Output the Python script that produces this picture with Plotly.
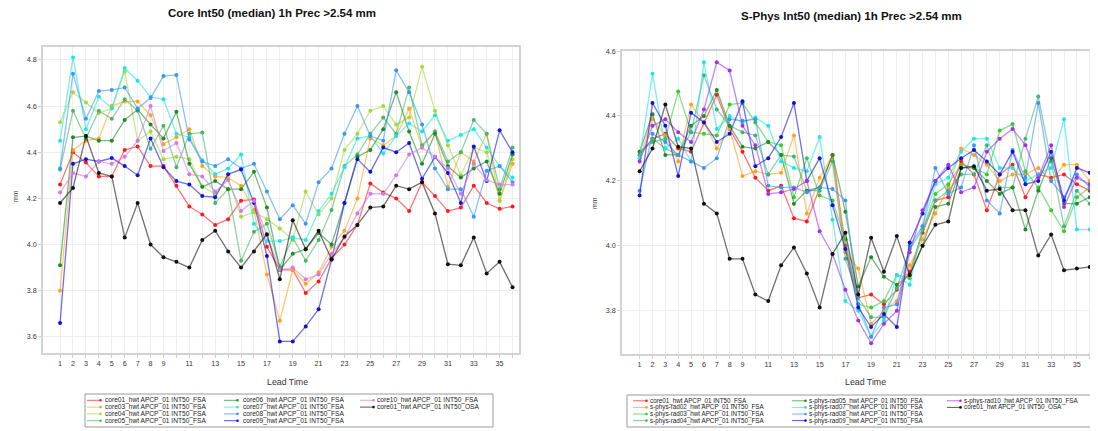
import plotly.graph_objects as go

# page is drawn with the browser's default 8px body margin
OFF = 8
W, H = 1098 - OFF, 431 - OFF

# ---------------- data ----------------
leads = list(range(1, 37))
xtick_labels = ["1", "2", "3", "4", "5", "6", "7", "8", "9", "11", "13", "15", "17",
                "19", "21", "23", "25", "27", "29", "31", "33", "35"]

left_title = "Core Int50 (median) 1h Prec >2.54 mm"
right_title = "S-Phys Int50 (median) 1h Prec >2.54 mm"
x_title = "Lead Time"
y_title = "mm"

left_names = ["core01_hwt APCP_01 INT50_FSA", "core03_hwt APCP_01 INT50_FSA",
              "core04_hwt APCP_01 INT50_FSA", "core05_hwt APCP_01 INT50_FSA",
              "core06_hwt APCP_01 INT50_FSA", "core07_hwt APCP_01 INT50_FSA",
              "core08_hwt APCP_01 INT50_FSA", "core09_hwt APCP_01 INT50_FSA",
              "core10_hwt APCP_01 INT50_FSA", "core01_hwt APCP_01 INT50_OSA"]
left_colors = ["#ff1a1a", "#ffa31a", "#a4d93a", "#45b865", "#1f8a2a",
               "#1ee6e6", "#3a96f0", "#1010d8", "#d07ae8", "#111111"]

core01_l = [4.26, 4.40, 4.355, 4.295, 4.295, 4.41, 4.425, 4.34, 4.34, 4.255, 4.165, 4.13,
            4.085, 4.11, 4.19, 4.195, 3.99, 3.89, 3.89, 3.79, 3.84, 3.94, 4.00, 4.085,
            4.265, 4.225, 4.20, 4.145, 4.27, 4.21, 4.145, 4.16, 4.255, 4.18, 4.155, 4.165]
core03_l = [3.80, 4.41, 4.45, 4.46, 4.60, 4.62, 4.62, 4.56, 4.435, 4.465, 4.50, 4.34,
            4.295, 4.29, 4.255, 4.15, 3.87, 3.67, 3.89, 3.83, 3.88, 3.99, 4.06, 4.20,
            4.46, 4.43, 4.47, 4.59, 4.42, 4.49, 4.25, 4.40, 4.36, 4.48, 4.19, 4.35]
core04_l = [4.53, 4.66, 4.615, 4.57, 4.59, 4.75, 4.45, 4.49, 4.37, 4.38, 4.37, 4.25,
            4.22, 4.285, 4.12, 4.14, 4.11, 4.07, 4.02, 4.23, 4.13, 4.20, 4.41, 4.48,
            4.58, 4.60, 4.52, 4.55, 4.77, 4.58, 4.43, 4.30, 4.42, 4.40, 4.19, 4.37]
core05_l = [4.325, 4.58, 4.46, 4.58, 4.545, 4.63, 4.58, 4.415, 4.515, 4.335, 4.48, 4.485,
            4.18, 4.24, 3.93, 4.055, 4.09, 3.905, 4.03, 3.93, 4.02, 4.15, 4.34, 4.39,
            4.48, 4.55, 4.48, 4.68, 4.43, 4.49, 4.36, 4.40, 4.54, 4.48, 4.24, 4.42]
core06_l = [3.91, 4.465, 4.47, 4.45, 4.45, 4.54, 4.585, 4.52, 4.46, 4.575, 4.35, 4.25,
            4.275, 4.24, 4.24, 4.315, 4.16, 3.89, 3.96, 3.98, 4.05, 4.00, 4.18, 4.38,
            4.41, 4.50, 4.66, 4.49, 4.35, 4.48, 4.34, 4.29, 4.33, 4.36, 4.22, 4.39]
core07_l = [4.45, 4.81, 4.50, 4.64, 4.59, 4.765, 4.71, 4.64, 4.63, 4.48, 4.465, 4.365,
            4.305, 4.33, 4.39, 4.09, 4.015, 4.015, 4.03, 4.02, 4.145, 4.22, 4.335, 4.46,
            4.47, 4.395, 4.47, 4.525, 4.49, 4.56, 4.45, 4.475, 4.50, 4.42, 4.34, 4.29]
core08_l = [4.33, 4.74, 4.545, 4.665, 4.67, 4.68, 4.59, 4.635, 4.73, 4.735, 4.455, 4.36,
            4.34, 4.37, 4.33, 4.35, 4.23, 4.11, 4.17, 4.09, 4.27, 4.33, 4.48, 4.60,
            4.47, 4.45, 4.755, 4.66, 4.52, 4.33, 4.24, 4.24, 4.12, 4.32, 4.34, 4.27]
core09_l = [3.66, 4.35, 4.37, 4.36, 4.375, 4.34, 4.30, 4.46, 4.335, 4.275, 4.26, 4.21,
            4.205, 4.305, 4.325, 4.18, 3.95, 3.58, 3.58, 3.645, 3.72, 3.935, 4.18, 4.37,
            4.315, 4.42, 4.40, 4.44, 4.285, 4.38, 4.31, 4.18, 4.425, 4.275, 4.495, 4.40]
core10_l = [4.225, 4.31, 4.295, 4.36, 4.35, 4.38, 4.45, 4.60, 4.405, 4.44, 4.305, 4.295,
            4.23, 4.28, 4.145, 4.19, 4.04, 3.89, 3.90, 3.85, 3.87, 3.96, 4.03, 4.135,
            4.22, 4.22, 4.30, 4.39, 4.42, 4.38, 4.33, 4.22, 4.35, 4.28, 4.26, 4.26]
osa_l = [4.18, 4.245, 4.47, 4.31, 4.295, 4.03, 4.18, 4.00, 3.945, 3.925, 3.90, 4.02,
         4.06, 3.97, 3.90, 3.97, 4.045, 3.85, 4.105, 3.98, 4.06, 3.935, 4.035, 4.085,
         4.16, 4.165, 4.255, 4.24, 4.27, 4.135, 3.915, 3.91, 4.03, 3.875, 3.925, 3.815]

right_names = ["core01_hwt APCP_01 INT50_FSA", "s-phys-rad02_hwt APCP_01 INT50_FSA",
               "s-phys-rad03_hwt APCP_01 INT50_FSA", "s-phys-rad04_hwt APCP_01 INT50_FSA",
               "s-phys-rad05_hwt APCP_01 INT50_FSA", "s-phys-rad07_hwt APCP_01 INT50_FSA",
               "s-phys-rad08_hwt APCP_01 INT50_FSA", "s-phys-rad09_hwt APCP_01 INT50_FSA",
               "s-phys-rad10_hwt APCP_01 INT50_FSA", "core01_hwt APCP_01 INT50_OSA"]
right_colors = ["#ff1a1a", "#ffa31a", "#33cc33", "#45b07a", "#1f8a2a",
                "#1ee6e6", "#3a96f0", "#1010d8", "#a030f0", "#111111"]

core01_r = [4.28, 4.33, 4.345, 4.30, 4.29, 4.38, 4.465, 4.36, 4.29, 4.21, 4.17, 4.185,
            4.085, 4.075, 4.18, 4.28, 4.00, 3.84, 3.85, 3.82, 3.865, 3.92, 4.04, 4.14,
            4.15, 4.26, 4.22, 4.11, 4.22, 4.25, 4.15, 4.22, 4.21, 4.22, 4.19, 4.17]
rad02_r = [4.27, 4.39, 4.34, 4.26, 4.435, 4.38, 4.30, 4.36, 4.215, 4.23, 4.22, 4.225,
           4.34, 4.10, 4.21, 4.28, 3.98, 3.93, 3.76, 3.80, 3.83, 3.94, 4.02, 4.10,
           4.18, 4.30, 4.28, 4.25, 4.20, 4.22, 4.22, 4.24, 4.20, 4.25, 4.25, 4.20]
rad03_r = [4.29, 4.32, 4.33, 4.475, 4.35, 4.345, 4.34, 4.435, 4.44, 4.38, 4.32, 4.31,
           4.15, 4.27, 4.155, 4.14, 4.02, 3.82, 3.81, 3.83, 3.91, 3.90, 4.05, 4.16,
           4.19, 4.25, 4.24, 4.22, 4.355, 4.375, 4.23, 4.18, 4.11, 4.045, 4.15, 4.18]
rad04_r = [4.28, 4.33, 4.30, 4.28, 4.35, 4.525, 4.42, 4.37, 4.35, 4.34, 4.22, 4.28,
           4.275, 4.17, 4.17, 4.26, 3.96, 3.84, 3.78, 3.78, 3.87, 3.99, 4.05, 4.14,
           4.17, 4.22, 4.22, 4.31, 4.18, 4.18, 4.33, 4.46, 4.26, 4.06, 4.17, 4.13]
rad05_r = [4.29, 4.405, 4.28, 4.28, 4.37, 4.40, 4.48, 4.37, 4.305, 4.30, 4.32, 4.28,
           4.13, 4.17, 4.18, 4.28, 4.105, 3.875, 3.965, 3.905, 3.88, 3.91, 4.00, 4.12,
           4.13, 4.24, 4.24, 4.20, 4.16, 4.18, 4.05, 4.17, 4.27, 4.13, 4.13, 4.15]
rad07_r = [4.27, 4.53, 4.30, 4.33, 4.26, 4.565, 4.36, 4.40, 4.38, 4.395, 4.37, 4.26,
           4.24, 4.23, 4.335, 4.08, 3.83, 3.80, 3.72, 3.77, 3.91, 3.88, 4.06, 4.19,
           4.21, 4.29, 4.33, 4.33, 4.24, 4.24, 4.20, 4.22, 4.24, 4.39, 4.05, 4.05]
rad08_r = [4.17, 4.345, 4.32, 4.28, 4.26, 4.24, 4.27, 4.39, 4.385, 4.39, 4.185, 4.18,
           4.18, 4.165, 4.18, 4.175, 4.14, 3.82, 3.72, 3.81, 3.82, 4.00, 4.06, 4.24,
           4.16, 4.18, 4.31, 4.14, 4.10, 4.295, 4.21, 4.44, 4.20, 4.15, 4.22, 4.18]
rad09_r = [4.155, 4.44, 4.37, 4.215, 4.41, 4.38, 4.32, 4.345, 4.445, 4.245, 4.27, 4.335,
           4.44, 4.20, 4.27, 4.125, 3.99, 3.81, 3.75, 3.79, 3.75, 4.01, 4.10, 4.20,
           4.24, 4.27, 4.295, 4.26, 4.22, 4.29, 4.19, 4.20, 4.29, 4.14, 4.24, 4.225]
rad10_r = [4.26, 4.37, 4.39, 4.35, 4.32, 4.42, 4.565, 4.54, 4.37, 4.31, 4.16, 4.165,
           4.175, 4.20, 4.045, 3.975, 3.865, 3.77, 3.70, 3.76, 3.80, 3.98, 4.11, 4.20,
           4.25, 4.165, 4.18, 4.29, 4.33, 4.36, 4.31, 4.21, 4.31, 4.12, 4.21, 4.19]
osa_r = [4.23, 4.30, 4.435, 4.305, 4.30, 4.13, 4.10, 3.96, 3.96, 3.85, 3.83, 3.94,
         3.995, 3.915, 3.81, 3.975, 4.04, 3.85, 4.025, 3.92, 4.03, 3.91, 4.00, 4.065,
         4.075, 4.24, 4.245, 4.17, 4.175, 4.11, 4.11, 3.97, 4.035, 3.925, 3.93, 3.935]

left_series = [core01_l, core03_l, core04_l, core05_l, core06_l,
               core07_l, core08_l, core09_l, core10_l, osa_l]
right_series = [core01_r, rad02_r, rad03_r, rad04_r, rad05_r,
                rad07_r, rad08_r, rad09_r, rad10_r, osa_r]

# ---------------- helpers (page pixel -> paper fraction) ----------------
def px(x):
    return (x - OFF) / W


def py(y):
    return 1 - (y - OFF) / H


def rgba(hexc, a):
    h = hexc.lstrip("#")
    r, g, b = int(h[0:2], 16), int(h[2:4], 16), int(h[4:6], 16)
    return f"rgba({r},{g},{b},{a})"


FONT = "Liberation Sans, Arial, sans-serif"

fig = go.Figure()

for names, colors, series, xa, ya in [
    (left_names, left_colors, left_series, "x", "y"),
    (right_names, right_colors, right_series, "x2", "y2"),
]:
    for name, col, vals in zip(names, colors, series):
        fig.add_trace(go.Scatter(
            x=leads, y=vals, name=name, mode="lines+markers",
            line=dict(color=rgba(col, 0.6), width=1.3),
            marker=dict(color=col, size=4),
            xaxis=xa, yaxis=ya, showlegend=False,
        ))

# every lead gets a tick and grid line; only some carry a label
xtick_text_all = [str(v) if str(v) in xtick_labels else "" for v in leads]

axis_common = dict(
    showline=True, mirror=True, linecolor="#d2d2d2", linewidth=1.5,
    showgrid=True, gridcolor="#eeeeee", gridwidth=1, zeroline=False,
    ticks="outside", ticklen=3, tickcolor="#cfcfcf",
    tickfont=dict(family=FONT, size=7.2, color="#333333"),
    automargin=False,
)

fig.update_layout(
    width=W, height=H, autosize=False,
    margin=dict(l=0, r=0, t=0, b=0),
    paper_bgcolor="white", plot_bgcolor="white",
    showlegend=False,
    xaxis=dict(domain=[px(43), px(519)], range=[-0.32, 36.5], anchor="y",
               tickmode="array", tickvals=leads, ticktext=xtick_text_all, **axis_common),
    yaxis=dict(domain=[py(353), py(47)], range=[3.53, 4.856], anchor="x",
               tickmode="linear", tick0=3.6, dtick=0.2, tickformat=".1f", **axis_common),
    xaxis2=dict(domain=[px(622), 1.0], range=[-0.37, 36.57 * (W - (622 - OFF)) / (1097 - 622) - 0.37 * 0],
                anchor="y2", tickmode="array", tickvals=leads, ticktext=xtick_text_all, **axis_common),
    yaxis2=dict(domain=[py(354), py(51)], range=[3.667, 4.6], anchor="x2",
                tickmode="linear", tick0=3.8, dtick=0.2, tickformat=".1f", **axis_common),
)

# keep the right panel's scale (12.86 px per lead) with its domain ending at the figure edge
right_px_per_lead = 12.86
fig.layout.xaxis2.range = [-0.37, -0.37 + (W - (622 - OFF)) / right_px_per_lead]

annotations = []
annotations.append(dict(text=f"<b>{left_title}</b>", x=px(272), y=py(13), xref="paper", yref="paper",
                        showarrow=False, xanchor="center", yanchor="middle",
                        font=dict(family=FONT, size=11.5, color="#111111")))
annotations.append(dict(text=f"<b>{right_title}</b>", x=px(851), y=py(16), xref="paper", yref="paper",
                        showarrow=False, xanchor="center", yanchor="middle",
                        font=dict(family=FONT, size=11.5, color="#111111")))
for cx in (287, 865):
    annotations.append(dict(text=x_title, x=px(cx), y=py(382), xref="paper", yref="paper",
                            showarrow=False, xanchor="center", yanchor="middle",
                            font=dict(family=FONT, size=8.8, color="#333333")))
for cx, cy in ((15, 196), (594, 203)):
    annotations.append(dict(text=y_title, x=px(cx), y=py(cy), xref="paper", yref="paper",
                            showarrow=False, xanchor="center", yanchor="middle", textangle=-90,
                            font=dict(family=FONT, size=7, color="#333333")))

shapes = []


def build_legend(names, colors, box, col_line_x, col_text_x, row_y, fsize):
    x0, y0, x1, y1 = box
    shapes.append(dict(type="rect", xref="paper", yref="paper",
                       x0=px(x0), x1=px(x1), y0=py(y1), y1=py(y0),
                       line=dict(color="#9a9a9a", width=1), fillcolor="rgba(0,0,0,0)"))
    for i, (name, col) in enumerate(zip(names, colors)):
        c, r = divmod(i, 4)
        lx, tx, yy = col_line_x[c], col_text_x[c], row_y[r]
        shapes.append(dict(type="line", xref="paper", yref="paper",
                           x0=px(lx), x1=px(lx + 13), y0=py(yy), y1=py(yy),
                           line=dict(color=rgba(col, 0.7), width=1)))
        shapes.append(dict(type="circle", xref="paper", yref="paper",
                           x0=px(lx + 12.2), x1=px(lx + 14.8), y0=py(yy + 1.3), y1=py(yy - 1.3),
                           line=dict(color=col, width=0), fillcolor=col))
        annotations.append(dict(text=name, x=px(tx), y=py(yy), xref="paper", yref="paper",
                                showarrow=False, xanchor="left", yanchor="middle",
                                borderpad=0, borderwidth=0,
                                font=dict(family=FONT, size=fsize, color="#222222")))


build_legend(left_names, left_colors, (85, 394, 493, 427),
             [87, 224, 360], [105, 243, 377], [400.3, 407.1, 413.9, 420.7], 6.6)
build_legend(right_names, right_colors, (627, 395, 1110, 427),
             [633, 792, 947], [650, 809, 964], [400.8, 407.4, 414.0, 420.6], 6.3)

fig.update_layout(annotations=annotations, shapes=shapes)

fig.write_html("out.html")
